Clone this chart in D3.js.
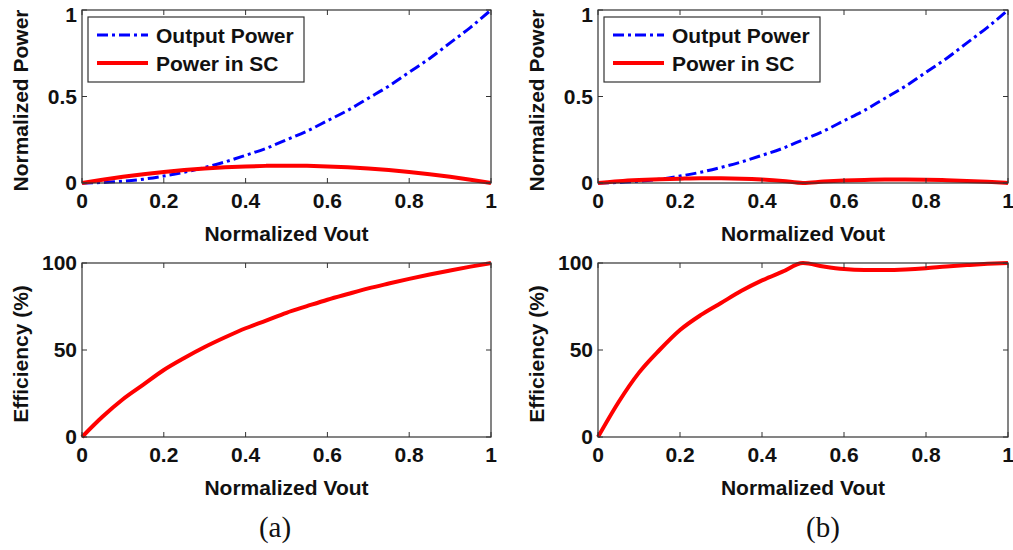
<!DOCTYPE html>
<html>
<head>
<meta charset="utf-8">
<script src="https://cdn.jsdelivr.net/npm/d3@7"></script>
<style>
  body { margin: 0; background: #fff; }
  text { font-family: "Liberation Sans", Arial, sans-serif; font-weight: bold; fill: #111; }
  .caption { font-family: "Liberation Serif", "Times New Roman", serif; font-weight: normal; }
</style>
</head>
<body>
<div id="chart"></div>
<script>
// DATA
var vout = [0, 0.05, 0.1, 0.15, 0.2, 0.25, 0.3, 0.35, 0.4, 0.45, 0.5,
            0.55, 0.6, 0.65, 0.7, 0.75, 0.8, 0.85, 0.9, 0.95, 1];

var outPowerA = [0, 0.003, 0.01, 0.022, 0.04, 0.062, 0.09, 0.122, 0.16, 0.2, 0.25,
                 0.3, 0.36, 0.42, 0.49, 0.56, 0.64, 0.72, 0.81, 0.9, 1];
var scPowerA = [0, 0.019, 0.036, 0.051, 0.064, 0.075, 0.084, 0.091, 0.096, 0.099, 0.1,
                0.099, 0.096, 0.091, 0.084, 0.075, 0.064, 0.051, 0.036, 0.019, 0];
var effA = [0, 11.6, 21.7, 30.1, 38.5, 45.4, 51.7, 57.3, 62.5, 66.9, 71.4,
            75.2, 78.9, 82.2, 85.4, 88.2, 90.9, 93.4, 95.7, 97.9, 100];

var outPowerB = [0, 0.003, 0.01, 0.022, 0.04, 0.062, 0.09, 0.122, 0.16, 0.2, 0.25,
                 0.3, 0.36, 0.42, 0.49, 0.56, 0.64, 0.72, 0.81, 0.9, 1];
var scPowerB = [0, 0.01, 0.017, 0.022, 0.025, 0.027, 0.027, 0.025, 0.02, 0.012, 0,
                0.008, 0.014, 0.018, 0.02, 0.02, 0.019, 0.016, 0.012, 0.007, 0];
var effB = [0, 20, 37, 50, 61.5, 70, 77, 84, 90, 95, 100,
            98, 96.5, 96, 96, 96.3, 97, 98, 98.8, 99.5, 100];

var xTicks = [0, 0.2, 0.4, 0.6, 0.8, 1];
var powerTicks = [0, 0.5, 1];
var effTicks = [0, 50, 100];
var legendLabels = ["Output Power", "Power in SC"];
var captions = ["(a)", "(b)"];

var W = 1013, H = 550;
var svg = d3.select("#chart").append("svg")
    .attr("width", W)
    .attr("height", H);

function drawPanel(left, top, width, height, yDomain, yTicks, yLabel, series, legend) {
    var x = d3.scaleLinear().domain([0, 1]).range([left, left + width]);
    var y = d3.scaleLinear().domain(yDomain).range([top + height, top]);
    var g = svg.append("g");

    // series
    series.forEach(function (s) {
        var line = d3.line()
            .x(function (d, i) { return x(vout[i]); })
            .y(function (d) { return y(d); })
            .curve(d3.curveMonotoneX);
        g.append("path")
            .datum(s.values)
            .attr("fill", "none")
            .attr("stroke", s.color)
            .attr("stroke-width", s.width)
            .attr("stroke-dasharray", s.dash)
            .attr("d", line);
    });

    // box + inward ticks (matlab style)
    g.append("rect")
        .attr("x", left).attr("y", top)
        .attr("width", width).attr("height", height)
        .attr("fill", "none").attr("stroke", "#333").attr("stroke-width", 1.2);

    xTicks.forEach(function (t) {
        g.append("line").attr("x1", x(t)).attr("x2", x(t))
            .attr("y1", top + height).attr("y2", top + height - 5)
            .attr("stroke", "#333");
        g.append("line").attr("x1", x(t)).attr("x2", x(t))
            .attr("y1", top).attr("y2", top + 5)
            .attr("stroke", "#333");
        g.append("text")
            .attr("x", x(t))
            .attr("y", top + height + 25)
            .attr("text-anchor", "middle")
            .style("font-size", "21px")
            .text(t);
    });
    yTicks.forEach(function (t) {
        g.append("line").attr("x1", left).attr("x2", left + 5)
            .attr("y1", y(t)).attr("y2", y(t)).attr("stroke", "#333");
        g.append("line").attr("x1", left + width).attr("x2", left + width - 5)
            .attr("y1", y(t)).attr("y2", y(t)).attr("stroke", "#333");
        g.append("text")
            .attr("x", left - 5)
            .attr("y", Math.max(y(t) + 7, 22)) // top label is pushed down to fit
            .attr("text-anchor", "end")
            .style("font-size", "21px")
            .text(t);
    });

    // axis titles
    g.append("text")
        .attr("x", left + width / 2)
        .attr("y", top + height + 58)
        .attr("text-anchor", "middle")
        .style("font-size", "21px")
        .text("Normalized Vout");
    g.append("text")
        .attr("transform", "translate(" + (left - 54) + "," + (top + height / 2 + 4) + ") rotate(-90)")
        .attr("text-anchor", "middle")
        .style("font-size", "21px")
        .text(yLabel);

    // legend
    if (legend) {
        var lx = left + 6, ly = top + 7;
        g.append("rect")
            .attr("x", lx).attr("y", ly)
            .attr("width", 216).attr("height", 65)
            .attr("fill", "#fff").attr("stroke", "#333").attr("stroke-width", 1.2);
        series.forEach(function (s, i) {
            var yy = ly + 18 + i * 28;
            g.append("line")
                .attr("x1", lx + 9).attr("x2", lx + 60)
                .attr("y1", yy).attr("y2", yy)
                .attr("stroke", s.color)
                .attr("stroke-width", s.width)
                .attr("stroke-dasharray", s.dash);
            g.append("text")
                .attr("x", lx + 68)
                .attr("y", yy + 8)
                .style("font-size", "21px")
                .text(legendLabels[i]);
        });
    }
}

var blue = { color: "#0000ff", width: 3, dash: "11,4,3,4" };
var red = { color: "#ff0000", width: 4, dash: null };

// (a)
drawPanel(82, 10, 409, 173, [0, 1], powerTicks, "Normalized Power",
    [Object.assign({ values: outPowerA }, blue), Object.assign({ values: scPowerA }, red)], true);
drawPanel(82, 263, 409, 174, [0, 100], effTicks, "Efficiency (%)",
    [Object.assign({ values: effA }, red)], false);

// (b)
drawPanel(598, 10, 410, 173, [0, 1], powerTicks, "Normalized Power",
    [Object.assign({ values: outPowerB }, blue), Object.assign({ values: scPowerB }, red)], true);
drawPanel(598, 263, 410, 174, [0, 100], effTicks, "Efficiency (%)",
    [Object.assign({ values: effB }, red)], false);

// captions
svg.selectAll("text.caption")
    .data(captions)
    .enter()
    .append("text")
    .attr("class", "caption")
    .attr("x", function (d, i) { return i === 0 ? 275 : 823; })
    .attr("y", 537)
    .attr("text-anchor", "middle")
    .style("font-size", "29px")
    .text(function (d) { return d; });
</script>
</body>
</html>
